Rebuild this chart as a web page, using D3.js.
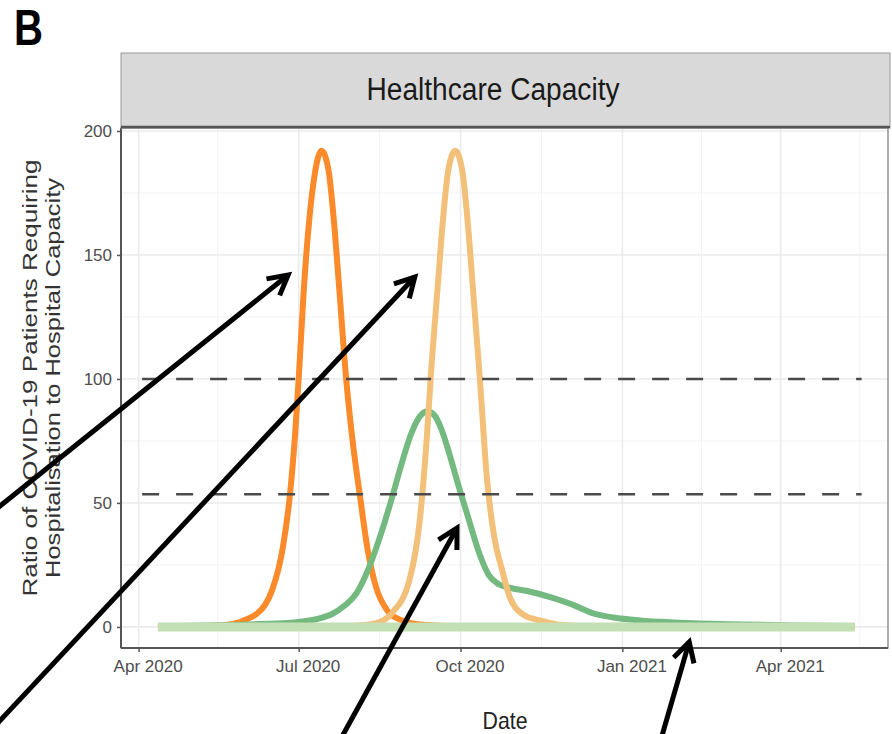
<!DOCTYPE html>
<html><head><meta charset="utf-8">
<script src="https://cdn.jsdelivr.net/npm/d3@7"></script>
<style>body{margin:0;background:#fff}svg{display:block}</style>
</head><body><svg id="chart" width="892" height="734"></svg>
<script>
// ---------- data ----------
const darkOrangeDates = ["2020-04-12","2020-05-10","2020-05-25","2020-05-31","2020-06-07","2020-06-12","2020-06-16","2020-06-22","2020-06-26","2020-06-29","2020-07-01","2020-07-04","2020-07-07","2020-07-10","2020-07-14","2020-07-18","2020-07-21","2020-07-24","2020-07-28","2020-08-01","2020-08-05","2020-08-09","2020-08-14","2020-08-20","2020-08-28","2020-09-10","2020-10-10","2020-12-01","2021-05-13"];
const darkOrangeValues = [0,0.3,1.3,2.7,5.2,9,15,32,53,78,100,137,164,182,192,184,164,137,100,73,52,32,16,7,2.8,0.9,0.2,0,0];

const lightOrangeDates = ["2020-04-12","2020-07-10","2020-08-05","2020-08-14","2020-08-23","2020-09-02","2020-09-08","2020-09-12","2020-09-14","2020-09-18","2020-09-21","2020-09-24","2020-09-28","2020-10-02","2020-10-05","2020-10-08","2020-10-12","2020-10-16","2020-10-20","2020-10-25","2020-10-29","2020-11-06","2020-11-15","2020-11-25","2020-12-10","2021-01-10","2021-05-13"];
const lightOrangeValues = [0,0.1,0.6,1.5,5.6,19,44,78,100,137,164,184,192,184,164,137,100,60,37,22,12,4.8,2.6,1,0.3,0.05,0];

const greenDates = ["2020-04-12","2020-05-10","2020-06-03","2020-07-01","2020-07-12","2020-07-20","2020-07-27","2020-08-03","2020-08-10","2020-08-17","2020-08-23","2020-08-29","2020-09-03","2020-09-08","2020-09-12","2020-09-16","2020-09-20","2020-09-25","2020-09-29","2020-10-05","2020-10-12","2020-10-17","2020-10-22","2020-10-29","2020-11-08","2020-11-21","2020-12-04","2020-12-15","2020-12-27","2021-01-11","2021-01-30","2021-02-14","2021-03-10","2021-04-10","2021-05-13"];
const greenValues = [0.3,0.6,1,2,3.3,5.2,8.5,13.7,24,38,52,67,78,85,87,85.5,80,69,59,45,29,21,17.5,15.8,14.5,12,8.9,5.6,3.8,2.6,1.8,1.4,1,0.6,0.4];

const baselineDates = ["2020-04-12","2021-05-13"];
const baselineValues = [0,0];

const thresholdValues = [100, 53.5];
const thresholdDates = ["2020-04-03","2021-05-17"];

const xTickDates = ["2020-04-01","2020-07-01","2020-10-01","2021-01-01","2021-04-01"];
const xMinorDates = ["2020-05-16","2020-08-16","2020-11-16","2021-02-15","2021-05-16"];
const xTickLabels = ["Apr 2020","Jul 2020","Oct 2020","Jan 2021","Apr 2021"];
const yTicks = [0,50,100,150,200];
const yMinor = [25,75,125,175];

// annotation arrows (tail -> tip) in data coordinates
const arrowTailDates = ["2020-01-07","2020-01-07","2020-07-23","2021-01-22"];
const arrowTailValues = [45.2,-42.5,-47.6,-47.6];
const arrowTipDates = ["2020-06-25","2020-09-05","2020-09-29","2021-02-08"];
const arrowTipValues = [141.9,141.1,39.9,-6.05];

// ---------- layout ----------
const P = {left:121, right:888, top:128, bottom:648};
const parse = d3.utcParse("%Y-%m-%d");
const svg = d3.select("#chart");
const font = "'Liberation Sans', Arial, sans-serif";

const x = d3.scaleUtc().domain([parse("2020-03-22"), parse("2021-06-01")]).range([P.left, P.right]);
const y = d3.scaleLinear().domain([-8.5, 201.2]).range([P.bottom, P.top]);

svg.append("rect").attr("x",P.left).attr("y",P.top).attr("width",P.right-P.left).attr("height",P.bottom-P.top).attr("fill","#fff");

// grid
const grid = svg.append("g");
grid.selectAll(".ymin").data(yMinor).join("line")
  .attr("x1",P.left).attr("x2",P.right).attr("y1",d=>y(d)).attr("y2",d=>y(d))
  .attr("stroke","#f2f2f2").attr("stroke-width",1);
grid.selectAll(".xmin").data(xMinorDates).join("line")
  .attr("x1",d=>x(parse(d))).attr("x2",d=>x(parse(d))).attr("y1",P.top).attr("y2",P.bottom)
  .attr("stroke","#f2f2f2").attr("stroke-width",1);
grid.selectAll(".ymaj").data(yTicks).join("line")
  .attr("x1",P.left).attr("x2",P.right).attr("y1",d=>y(d)).attr("y2",d=>y(d))
  .attr("stroke","#ebebeb").attr("stroke-width",1.6);
grid.selectAll(".xmaj").data(xTickDates).join("line")
  .attr("x1",d=>x(parse(d))).attr("x2",d=>x(parse(d))).attr("y1",P.top).attr("y2",P.bottom)
  .attr("stroke","#ebebeb").attr("stroke-width",1.6);

// series
const line = d3.line().x(d=>x(d[0])).y(d=>y(d[1])).curve(d3.curveMonotoneX);
const zip = (ds, vs) => ds.map((d,i)=>[parse(d), vs[i]]);
const series = [
  {data: zip(darkOrangeDates, darkOrangeValues), color:"#fb8a2a", w:6},
  {data: zip(greenDates, greenValues), color:"#74b980", w:6},
  {data: zip(lightOrangeDates, lightOrangeValues), color:"#f3c07a", w:6},
  {data: zip(baselineDates, baselineValues), color:"#c3dfb4", w:9}
];
svg.append("g").selectAll("path").data(series).join("path")
  .attr("d",d=>line(d.data)).attr("fill","none")
  .attr("stroke",d=>d.color).attr("stroke-width",d=>d.w)
  .attr("stroke-linejoin","round").attr("stroke-linecap","butt");

// threshold dashed lines
svg.append("g").selectAll("line").data(thresholdValues).join("line")
  .attr("x1",x(parse(thresholdDates[0]))).attr("x2",x(parse(thresholdDates[1])))
  .attr("y1",d=>y(d)).attr("y2",d=>y(d))
  .attr("stroke","#4a4a4a").attr("stroke-width",2.6).attr("stroke-dasharray","17,17");

// panel border
svg.append("rect").attr("x",P.left).attr("y",P.top).attr("width",P.right-P.left).attr("height",P.bottom-P.top)
  .attr("fill","none").attr("stroke","#777").attr("stroke-width",1.2);

// axes
const xAxis = svg.append("g").attr("transform",`translate(0,${P.bottom})`)
  .call(d3.axisBottom(x).tickValues(xTickDates.map(parse)).tickFormat((d,i)=>xTickLabels[i]).tickSize(4).tickPadding(8));
const yAxis = svg.append("g").attr("transform",`translate(${P.left},0)`)
  .call(d3.axisLeft(y).tickValues(yTicks).tickSize(4).tickPadding(5));
[xAxis,yAxis].forEach(a=>{
  a.select(".domain").attr("stroke","#555").attr("stroke-width",2);
  a.selectAll(".tick line").attr("stroke","#555").attr("stroke-width",1.5);
  a.selectAll(".tick text").attr("fill","#4d4d4d").attr("font-family",font).attr("font-size",17);
});
xAxis.selectAll(".tick text").attr("dx",9);
yAxis.select(".domain").attr("d",`M0,${P.top}V${P.bottom}`);
xAxis.select(".domain").attr("d",`M${P.left},0H${P.right}`);

// strip
svg.append("rect").attr("x",P.left).attr("y",53).attr("width",P.right-P.left+2).attr("height",P.top-53)
  .attr("fill","#d9d9d9").attr("stroke","#999").attr("stroke-width",1);
svg.append("line").attr("x1",P.left).attr("x2",P.right+2).attr("y1",P.top-1).attr("y2",P.top-1)
  .attr("stroke","#555").attr("stroke-width",2.5);
svg.append("text").attr("x",493).attr("y",100).attr("text-anchor","middle")
  .attr("font-family","'Liberation Sans Narrow','Liberation Sans',Arial,sans-serif").attr("font-size",31)
  .attr("fill","#1a1a1a").attr("textLength",253).attr("lengthAdjust","spacingAndGlyphs")
  .text("Healthcare Capacity");

// axis titles
svg.append("text").attr("x",505).attr("y",729).attr("text-anchor","middle")
  .attr("font-family",font).attr("font-size",24).attr("fill","#222")
  .attr("textLength",45).attr("lengthAdjust","spacingAndGlyphs").text("Date");
const yt = svg.append("g").attr("transform","translate(0,378) rotate(-90)");
yt.append("text").attr("x",0).attr("y",37).attr("text-anchor","middle")
  .attr("font-family",font).attr("font-size",21).attr("fill","#333")
  .attr("textLength",437).attr("lengthAdjust","spacingAndGlyphs")
  .text("Ratio of COVID-19 Patients Requiring");
yt.append("text").attr("x",0).attr("y",60).attr("text-anchor","middle")
  .attr("font-family",font).attr("font-size",21).attr("fill","#333")
  .attr("textLength",400).attr("lengthAdjust","spacingAndGlyphs")
  .text("Hospitalisation to Hospital Capacity");

// panel label
svg.append("text").attr("x",14).attr("y",45)
  .attr("font-family",font).attr("font-size",50).attr("font-weight","bold").attr("fill","#000")
  .attr("textLength",29).attr("lengthAdjust","spacingAndGlyphs").text("B");

// arrows
const arrows = arrowTipDates.map((d,i)=>({
  tx:x(parse(arrowTailDates[i])), ty:y(arrowTailValues[i]),
  hx:x(parse(d)), hy:y(arrowTipValues[i])
}));
const ag = svg.append("g");
ag.selectAll(".shaft").data(arrows).join("line")
  .attr("x1",d=>d.tx).attr("y1",d=>d.ty).attr("x2",d=>d.hx).attr("y2",d=>d.hy)
  .attr("stroke","#000").attr("stroke-width",5);
ag.selectAll(".head").data(arrows).join("path")
  .attr("d",d=>{
    const a = Math.atan2(d.ty-d.hy, d.tx-d.hx), L = 22, s = 0.5;
    const p1 = [d.hx+L*Math.cos(a+s), d.hy+L*Math.sin(a+s)];
    const p2 = [d.hx+L*Math.cos(a-s), d.hy+L*Math.sin(a-s)];
    return `M${p1}L${d.hx},${d.hy}L${p2}`;
  })
  .attr("fill","none").attr("stroke","#000").attr("stroke-width",5)
  .attr("stroke-linejoin","miter").attr("stroke-linecap","butt");
</script></body></html>
